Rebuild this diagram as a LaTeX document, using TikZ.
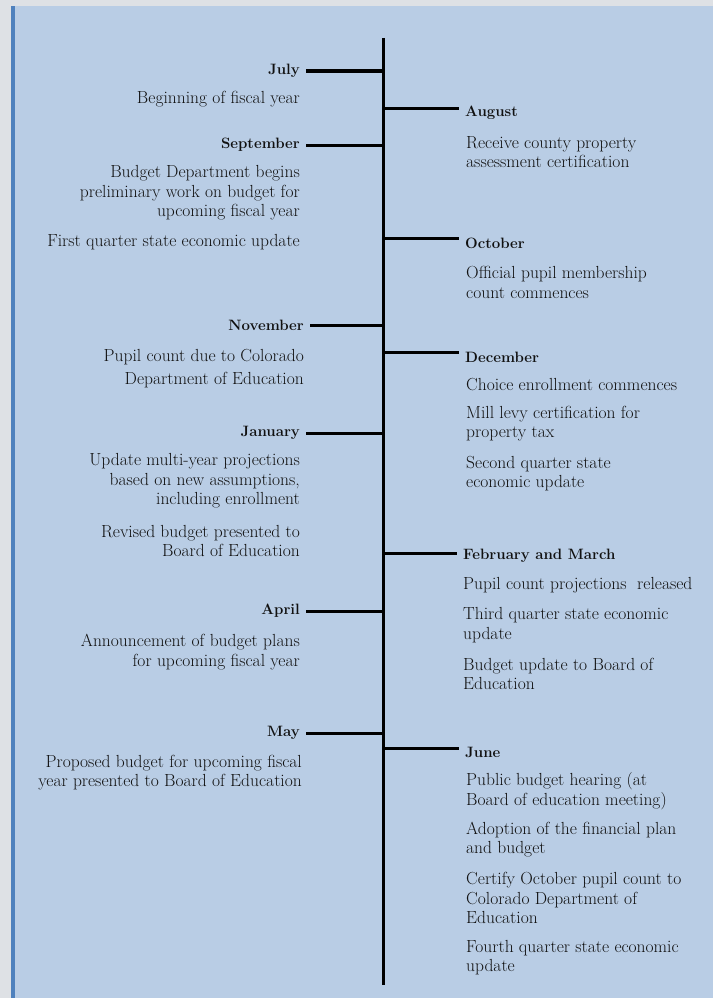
\documentclass[tikz,border=0pt]{standalone}
\definecolor{outerbg}{HTML}{DEE1E5}
\definecolor{panel}{HTML}{B9CDE5}
\definecolor{bar}{HTML}{4F81BD}
\definecolor{ink}{HTML}{111111}
\tikzset{
  tick/.style={line width=3pt, black},
  spineline/.style={line width=3pt, black},
  mlabl/.style={anchor=east, inner xsep=6pt, inner ysep=0pt, font=\fontsize{15}{19.5}\selectfont\bfseries, text=ink},
  mlabr/.style={anchor=west, inner xsep=6pt, inner ysep=0pt, font=\fontsize{15}{19.5}\selectfont\bfseries, text=ink},
  descl/.style={anchor=east, inner sep=0pt, align=right, font=\fontsize{17.5}{19.5}\selectfont, text=ink},
  descr/.style={anchor=west, inner sep=0pt, align=left, font=\fontsize{17.5}{19.5}\selectfont, text=ink},
}
\begin{document}
\begin{tikzpicture}[x=1pt,y=-1pt]
\useasboundingbox (0,0) rectangle (713,998);
\fill[outerbg] (0,0) rectangle (713,998);
\fill[panel] (11,6) rectangle (713,998);
\fill[bar] (11,6) rectangle (15,998);
% spine
\coordinate (top) at (383,38);
\coordinate (bot) at (383,985);
\draw[spineline] (top) -- (bot);
% left month labels
\node[mlabl] (jul) at (306,71) {July};
\node[mlabl] (sep) at (306,145) {September};
\node[mlabl] (nov) at (310,325) {November};
\node[mlabl] (jan) at (306,433) {January};
\node[mlabl] (apr) at (306,611) {April};
\node[mlabl] (may) at (306,733) {May};
\foreach \n in {jul,sep,nov,jan,apr,may}{
  \draw[tick] (\n.east) -- (\n.east -| top);
}
% left descriptions
\node[descl] (d1) at (300,99) {Beginning of fiscal year};
\node[descl] (d2) at (300,193) {Budget Department begins\\preliminary work on budget for\\upcoming fiscal year};
\node[descl] (d3) at (300,242) {First quarter state economic update};
\node[descl] (d4) at (304,368.5) {Pupil count due to Colorado\\[3.5pt]Department of Education};
\node[descl] (d5) at (300,481) {Update multi-year projections\\based on new assumptions,\\including enrollment};
\node[descl] (d6) at (300,541) {Revised budget presented to\\Board of Education};
\node[descl] (d7) at (300,652) {Announcement of budget plans\\for upcoming fiscal year};
\node[descl] (d8) at (302,772.5) {Proposed budget for upcoming fiscal\\year presented to Board of Education};
% right month ticks and labels
\coordinate (saug) at (383,108);
\coordinate (soct) at (383,238);
\coordinate (sdec) at (383,352);
\coordinate (sfeb) at (383,553);
\coordinate (sjun) at (383,748);
\node[mlabr] (aug) at (459,113) {August};
\node[mlabr] (oct) at (459,243) {October};
\node[mlabr] (dec) at (459,357) {December};
\node[mlabr] (feb) at (457,556) {February and March};
\node[mlabr] (jun) at (459,752) {June};
\draw[tick] (saug) -- (saug -| aug.west);
\draw[tick] (soct) -- (soct -| oct.west);
\draw[tick] (sdec) -- (sdec -| dec.west);
\draw[tick] (sfeb) -- (sfeb -| feb.west);
\draw[tick] (sjun) -- (sjun -| jun.west);
% right descriptions
\node[descr] (r1) at (466,152) {Receive county property\\assessment certification};
\node[descr] (r2) at (466,282.5) {Official pupil membership\\count commences};
\node[descr] (r3) at (466,385) {Choice enrollment commences};
\node[descr] (r4) at (466,423.5) {Mill levy certification for\\property tax};
\node[descr] (r5) at (466,473.5) {Second quarter state\\economic update};
\node[descr] (r6) at (463,585) {Pupil count projections\ \ released};
\node[descr] (r7) at (463,625) {Third quarter state economic\\update};
\node[descr] (r8) at (463,674) {Budget update to Board of\\Education};
\node[descr] (r9) at (466,791) {Public budget hearing (at\\Board of education meeting)};
\node[descr] (r10) at (466,839.5) {Adoption of the financial plan\\and budget};
\node[descr] (r11) at (466,898) {Certify October pupil count to\\Colorado Department of\\Education};
\node[descr] (r12) at (466,957.5) {Fourth quarter state economic\\update};
\end{tikzpicture}
\end{document}
